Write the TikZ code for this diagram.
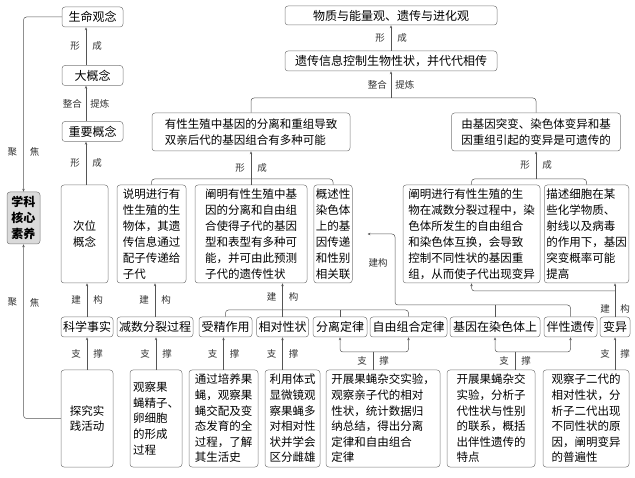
\documentclass[tikz,border=0pt]{standalone}
\usepackage{fontspec}
\setmainfont{Noto Sans CJK SC}
\usetikzlibrary{arrows.meta,positioning,calc}
\definecolor{kmLine}{HTML}{555555}
\definecolor{kmBox}{HTML}{7A7A7A}
\definecolor{kmCore}{HTML}{DADADA}
\tikzset{
  kmnode/.style={
    draw=kmBox, rounded corners=3pt, line width=0.5pt, inner sep=2pt,
    font=\fontsize{11.5}{16}\selectfont, align=left
  },
  kmsmall/.style={kmnode, minimum height=20pt, font=\fontsize{12}{14}\selectfont},
  kmtall/.style={kmnode, minimum height=98pt},
  kmlow/.style={kmnode, minimum height=97pt, font=\fontsize{11.5}{15.6}\selectfont},
  kmcore/.style={kmnode, fill=kmCore, font=\fontsize{12}{16}\selectfont\bfseries, align=center},
  kmlink/.style={kmLine, line width=0.5pt, rounded corners=3pt},
  kmup/.style={kmlink, -{Stealth[length=3pt,width=2.4pt]}},
  kmlab/.style={font=\fontsize{9.5}{10}\selectfont, inner sep=1pt, text=black!80}
}

\begin{document}
\begin{tikzpicture}[x=1pt, y=-1pt]
  \useasboundingbox (0,0) rectangle (635,478);

  % left column
  \node[kmsmall, minimum width=61pt] (life) at (92.5,17) {生命观念};
  \node[kmsmall, minimum width=61pt] (big) at (92.5,75.5) {大概念};
  \node[kmsmall, minimum width=61pt] (key) at (92.5,131.5) {重要概念};
  \node[kmtall, minimum width=47pt, align=center] (sub) at (84.5,234) {次位\\概念};
  \node[kmcore, minimum width=33pt, minimum height=52pt] (core) at (23.5,218) {学科\\核心\\素养};
  \node[kmsmall, minimum width=52pt] (fact) at (87,327) {科学事实};
  \node[kmlow, minimum width=52pt, align=center] (prac) at (87,418.5) {探究实\\践活动};
  \coordinate (lx) at (86,0);

  % top
  \node[kmsmall, minimum width=212pt, minimum height=19pt] (view) at (391,15.5) {物质与能量观、遗传与进化观};
  \node[kmsmall, minimum width=212pt] (gene) at (391,61) {遗传信息控制生物性状，并代代相传};
  \node[kmnode, minimum width=198pt, minimum height=38pt] (cl) at (251,132) {有性生殖中基因的分离和重组导致\\双亲后代的基因组合有多种可能};
  \node[kmnode, minimum width=169pt, minimum height=38pt] (cr) at (536,132) {由基因突变、染色体变异和基\\因重组引起的变异是可遗传的};

  % row 3
  \node[kmtall, minimum width=69pt] (s1) at (151.5,234) {说明进行有\\性生殖的生\\物体，其遗\\传信息通过\\配子传递给\\子代};
  \node[kmtall, minimum width=112pt] (s2) at (251,234) {阐明有性生殖中基\\因的分离和自由组\\合使得子代的基因\\型和表型有多种可\\能，并可由此预测\\子代的遗传性状};
  \node[kmtall, minimum width=38pt] (s3) at (333,234) {概述性\\染色体\\上的基\\因传递\\和性别\\相关联};
  \node[kmtall, minimum width=137pt] (s4) at (471.5,234) {阐明进行有性生殖的生\\物在减数分裂过程中，染\\色体所发生的自由组合\\和染色体互换，会导致\\控制不同性状的基因重\\组，从而使子代出现变异};
  \node[kmtall, minimum width=83pt] (s5) at (586.5,234) {描述细胞在某\\些化学物质、\\射线以及病毒\\的作用下，基因\\突变概率可能\\提高};

  % row 4
  \node[kmsmall, minimum width=76pt] (meio) at (155,327) {减数分裂过程};
  \node[kmsmall, minimum width=53pt] (fert) at (225.5,327) {受精作用};
  \node[kmsmall, minimum width=51pt] (rel) at (282.5,327) {相对性状};
  \node[kmsmall, minimum width=54pt] (seg) at (340,327) {分离定律};
  \node[kmsmall, minimum width=77pt] (ind) at (408.5,327) {自由组合定律};
  \node[kmsmall, minimum width=90pt] (gchr) at (495,327) {基因在染色体上};
  \node[kmsmall, minimum width=53pt] (sexl) at (570.5,327) {伴性遗传};
  \node[kmsmall, minimum width=30pt] (var) at (615,327) {变异};

  % row 5
  \node[kmlow, minimum width=52pt] (obs1) at (156,418.5) {观察果\\蝇精子、\\卵细胞\\的形成\\过程};
  \node[kmlow, minimum width=69pt] (cult) at (223.5,418.5) {通过培养果\\蝇，观察果\\蝇交配及变\\态发育的全\\过程，了解\\其生活史};
  \node[kmlow, minimum width=55pt] (micro) at (292.5,418.5) {利用体式\\显微镜观\\察果蝇多\\对相对性\\状并学会\\区分雌雄};
  \node[kmlow, minimum width=114pt] (cross1) at (383,418.5) {开展果蝇杂交实验，\\观察亲子代的相对\\性状，统计数据归\\纳总结，得出分离\\定律和自由组合\\定律};
  \node[kmlow, minimum width=88pt] (cross2) at (491,418.5) {开展果蝇杂交\\实验，分析子\\代性状与性别\\的联系，概括\\出伴性遗传的\\特点};
  \node[kmlow, minimum width=86pt] (obs2) at (586,418.5) {观察子二代的\\相对性状，分\\析子二代出现\\不同性状的原\\因，阐明变异\\的普遍性};

  % left column connectors
  \draw[kmup] (big.north -| lx) -- node[kmlab, left=5pt] (la1) {形} node[kmlab, right=5pt] (lb1) {成} (life.south -| lx);
  \draw[kmup] (key.north -| lx) -- node[kmlab, left=3pt] (la2) {整合} node[kmlab, right=3pt] (lb2) {提炼} (big.south -| lx);
  \draw[kmup] (sub.north -| lx) -- node[kmlab, left=5pt] (la3) {形} node[kmlab, right=5pt] (lb3) {成} (key.south -| lx);
  \draw[kmup] (life.west) -| node[kmlab, pos=0.886, left=5pt] (la4) {聚} node[kmlab, pos=0.886, right=5pt] (lb4) {焦} (core.north);
  \draw[kmup] (prac.west) -| node[kmlab, pos=0.833, left=5pt] (la5) {聚} node[kmlab, pos=0.833, right=5pt] (lb5) {焦} (core.south);
  \draw[kmup] (fact.north) -- node[kmlab, left=5pt] (la6) {建} node[kmlab, right=5pt] (lb6) {构} (fact.north |- sub.south);
  \draw[kmup] (prac.north) -- node[kmlab, left=5pt] (la7) {支} node[kmlab, right=5pt] (lb7) {撑} (fact.south);

  % top connectors
  \coordinate (tj) at (391,98);
  \draw[kmup] (gene.north) -- node[kmlab, left=5pt] (la8) {形} node[kmlab, right=5pt] (lb8) {成} (view.south);
  \draw[kmlink] (cl.north) |- (tj) -| (cr.north);
  \draw[kmup] (tj) -- node[kmlab, left=3pt] (la9) {整合} node[kmlab, right=3pt] (lb9) {提炼} (gene.south);

  % concepts to row 3
  \coordinate (lbr) at (251,179);
  \coordinate (rbr) at (536,179);
  \draw[kmlink] (s1.north) |- (lbr) -| (s3.north);
  \draw[kmup] (s2.north) -- node[kmlab, left=5pt] (la10) {形} node[kmlab, right=5pt] (lb10) {成} (cl.south);
  \draw[kmlink] (s4.north) |- (rbr) -| (s5.north);
  \draw[kmup] (rbr) -- node[kmlab, left=5pt] (la11) {形} node[kmlab, right=5pt] (lb11) {成} (cr.south);

  % row 4 to row 3
  \draw[kmup] (meio.north) -- node[kmlab, left=5pt] (la12) {建} node[kmlab, right=5pt] (lb12) {构} (meio.north |- s1.south);
  \coordinate (ja) at (283,310);
  \draw[kmlink] (fert.north) |- (ja) -| (ind.north);
  \draw[kmlink] (seg.north) -- (seg.north |- ja);
  \draw[kmup] (rel.north) -- node[kmlab, pos=0.6, left=5pt] (la13) {建} node[kmlab, pos=0.6, right=5pt] (lb13) {构} (rel.north |- s2.south);
  \coordinate (jb) at (395,305);
  \draw[kmlink] (gchr.north) -- (gchr.north |- jb);
  \draw[kmup, shorten >=15pt] (sexl.north) |- (jb) |- (s3.east);
  \node[kmlab] (lab14) at (378,263) {建构};
  \coordinate (jc) at (614,291);
  \draw[kmlink] (var.north) -- node[kmlab, pos=0.3, left=4pt] (la15) {建} node[kmlab, pos=0.3, right=4pt] (lb15) {构} (var.north |- jc);
  \draw[kmup] (var.north |- jc) -- (var.north |- s5.south);
  \draw[kmup] (var.north |- jc) -| (s4.south);

  % row 5 to row 4
  \draw[kmup] (obs1.north) -- node[kmlab, left=5pt] (la16) {支} node[kmlab, right=5pt] (lb16) {撑} (obs1.north |- meio.south);
  \draw[kmup] (cult.north) -- node[kmlab, left=5pt] (la17) {支} node[kmlab, right=5pt] (lb17) {撑} (cult.north |- fert.south);
  \draw[kmup] (rel.south |- micro.north) -- node[kmlab, left=5pt] (la18) {支} node[kmlab, right=5pt] (lb18) {撑} (rel.south);
  \coordinate (jd) at (373,352);
  \draw[kmlink] (jd |- cross1.north) -- node[kmlab, left=5pt] (la19) {支} node[kmlab, right=5pt] (lb19) {撑} (jd);
  \draw[kmup] (jd) -| (seg.south);
  \draw[kmup] (jd) -| (ind.south);
  \coordinate (je) at (515,352);
  \draw[kmlink] (je |- cross2.north) -- node[kmlab, left=5pt] (la20) {支} node[kmlab, right=5pt] (lb20) {撑} (je);
  \draw[kmup] (je) -| (gchr.south);
  \draw[kmup] (je) -| (sexl.south);
  \draw[kmup] (var.south |- obs2.north) -- node[kmlab, left=4pt] (la21) {支} node[kmlab, right=4pt] (lb21) {撑} (var.south);
\end{tikzpicture}
\end{document}
